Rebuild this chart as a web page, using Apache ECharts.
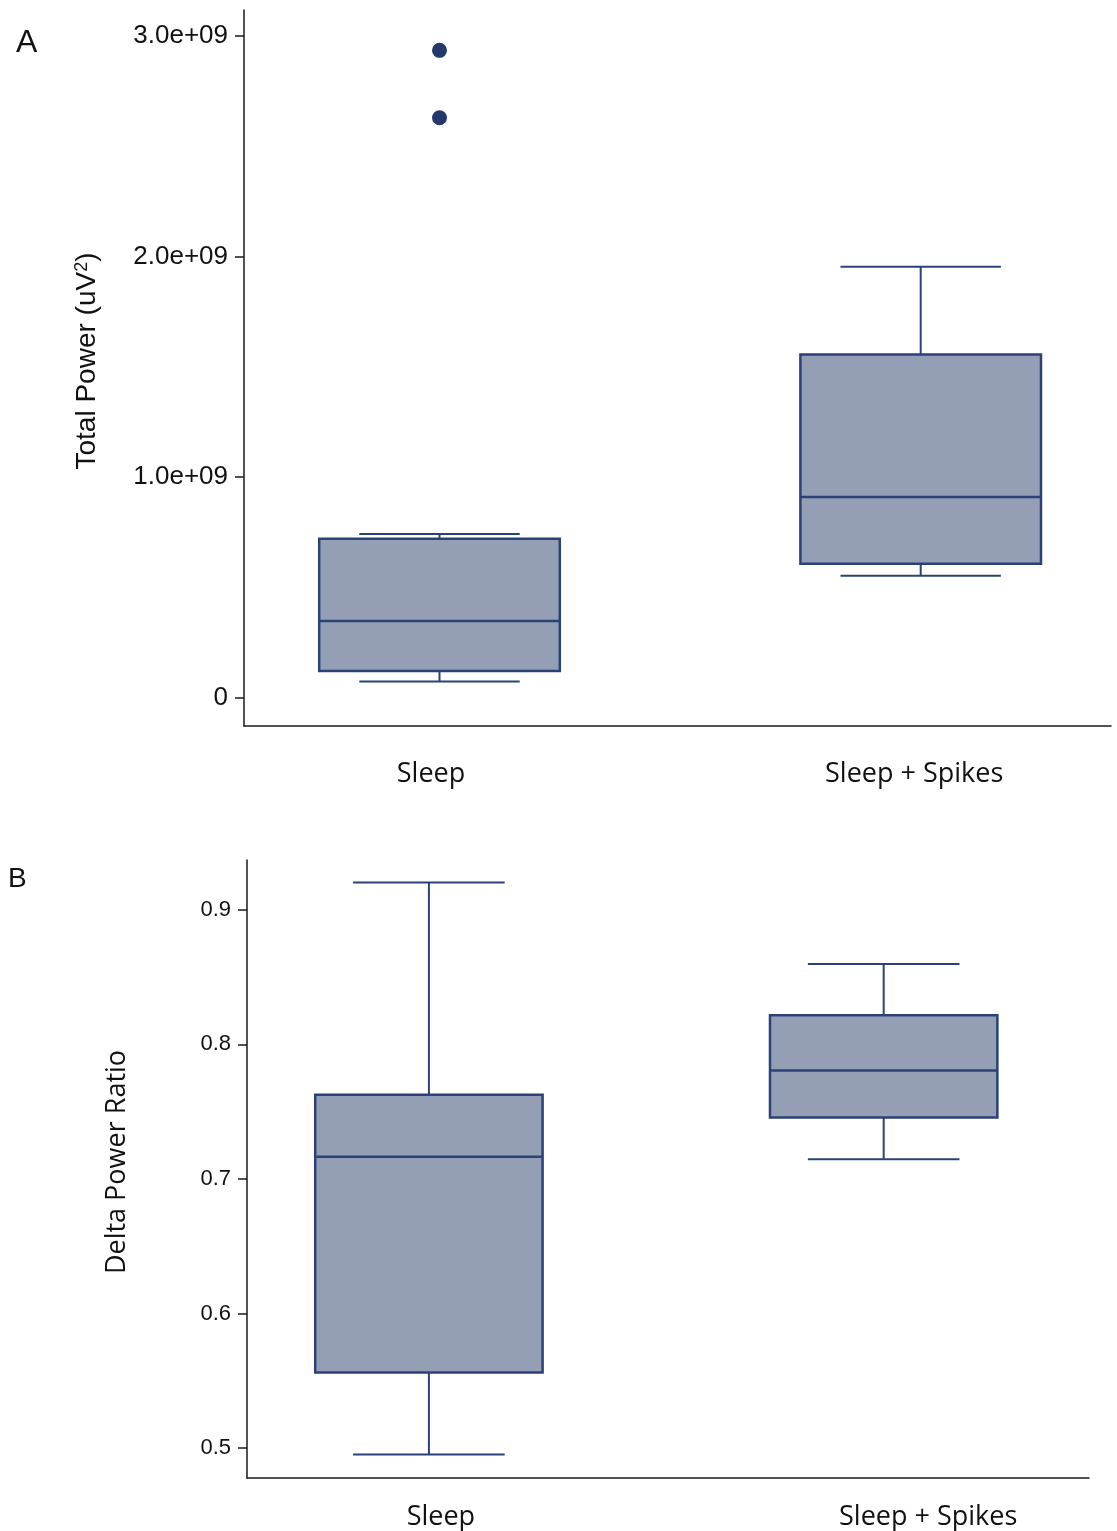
<!DOCTYPE html>
<html><head><meta charset="utf-8">
<script src="https://cdn.jsdelivr.net/npm/echarts@6/dist/echarts.min.js"></script>
<style>html,body{margin:0;padding:0;background:#fff}#c{width:1117px;height:1531px}</style>
</head><body><div id="c"></div>
<script>
// ---- data ----
const categories = ['Sleep', 'Sleep + Spikes'];
// box stats: [min, Q1, median, Q3, max]
const powerSleep = [0.072e9, 0.120e9, 0.347e9, 0.720e9, 0.741e9];
const powerSpikes = [0.552e9, 0.606e9, 0.909e9, 1.555e9, 1.954e9];
const powerOutliersSleep = [2.935e9, 2.629e9];
const powerTicks = [0, 1e9, 2e9, 3e9];
const powerTickLabels = ['0', '1.0e+09', '2.0e+09', '3.0e+09'];
const ratioSleep = [0.4951, 0.5561, 0.7165, 0.7626, 0.9204];
const ratioSpikes = [0.7146, 0.7457, 0.7806, 0.8216, 0.8597];
const ratioTicks = [0.5, 0.6, 0.7, 0.8, 0.9];
const ratioTickLabels = ['0.5', '0.6', '0.7', '0.8', '0.9'];

// ---- styles ----
const STROKE = '#2b4276';
const FILL = '#949fb6';
const AXIS = '#1a1a1a';
const HELV = 'Liberation Sans';
const CAL = 'Open Sans';

function renderBox(params, api) {
  const x = api.value(0);
  const lo = api.coord([x, api.value(1)]);
  const q1 = api.coord([x, api.value(2)]);
  const med = api.coord([x, api.value(3)]);
  const q3 = api.coord([x, api.value(4)]);
  const hi = api.coord([x, api.value(5)]);
  const bw = api.size([0.5, 0], [x, api.value(3)])[0];
  const cw = api.size([1 / 3, 0], [x, api.value(3)])[0];
  const cx = med[0];
  const ls = { stroke: STROKE, lineWidth: 2 };
  return {
    type: 'group',
    children: [
      { type: 'line', shape: { x1: cx, y1: hi[1], x2: cx, y2: q3[1] }, style: ls },
      { type: 'line', shape: { x1: cx, y1: q1[1], x2: cx, y2: lo[1] }, style: ls },
      { type: 'line', shape: { x1: cx - cw / 2, y1: hi[1], x2: cx + cw / 2, y2: hi[1] }, style: ls },
      { type: 'line', shape: { x1: cx - cw / 2, y1: lo[1], x2: cx + cw / 2, y2: lo[1] }, style: ls },
      { type: 'rect', shape: { x: cx - bw / 2, y: q3[1], width: bw, height: q1[1] - q3[1] },
        style: { fill: FILL, stroke: STROKE, lineWidth: 2.5 } },
      { type: 'line', shape: { x1: cx - bw / 2, y1: med[1], x2: cx + bw / 2, y2: med[1] },
        style: { stroke: STROKE, lineWidth: 2.5 } }
    ]
  };
}

function catFormatter(v) {
  const i = Math.round(v) - 1;
  return '{c' + i + '|' + categories[i] + '}';
}
function tickFmt(ticks, labels) {
  return function (v) {
    for (let i = 0; i < ticks.length; i++) if (Math.abs(ticks[i] - v) < 1e-9 * Math.max(1, Math.abs(v))) return labels[i];
    return '';
  };
}

const chart = echarts.init(document.getElementById('c'), null, { renderer: 'canvas' });
chart.setOption({
  animation: false,
  backgroundColor: '#ffffff',
  title: [
    { text: 'A', left: 16, top: 27, padding: 0,
      textStyle: { fontSize: 32, fontWeight: 'normal', fontFamily: HELV, color: '#111' } },
    { text: 'B', left: 8, top: 865, padding: 0,
      textStyle: { fontSize: 28, fontWeight: 'normal', fontFamily: HELV, color: '#111' } }
  ],
  grid: [
    { left: 244, right: 6, top: 10, height: 716 },
    { left: 247, right: 28, top: 860, height: 619.3 }
  ],
  xAxis: [
    { gridIndex: 0, type: 'value', min: 0.5937, max: 2.3955,
      axisLine: { show: true, onZero: false, lineStyle: { color: AXIS, width: 1.5 } },
      axisTick: { show: false }, splitLine: { show: false },
      axisLabel: { customValues: [1, 2], formatter: catFormatter, margin: 35,
        fontSize: 27, fontFamily: CAL, color: '#111',
        rich: { c0: { fontSize: 27, fontFamily: CAL, color: '#111', padding: [0, 17, 0, 0] },
                c1: { fontSize: 27, fontFamily: CAL, color: '#111', padding: [0, 13, 0, 0] } } } },
    { gridIndex: 1, type: 'value', min: 0.6, max: 2.4515,
      axisLine: { show: true, onZero: false, lineStyle: { color: AXIS, width: 1.5 } },
      axisTick: { show: false }, splitLine: { show: false },
      axisLabel: { customValues: [1, 2], formatter: catFormatter, margin: 26,
        fontSize: 27, fontFamily: CAL, color: '#111',
        rich: { c0: { fontSize: 27, fontFamily: CAL, color: '#111', padding: [0, 0, 0, 24] },
                c1: { fontSize: 27, fontFamily: CAL, color: '#111', padding: [0, 0, 0, 89] } } } }
  ],
  yAxis: [
    { gridIndex: 0, type: 'value', min: -0.1294e9, max: 3.118e9,
      axisLine: { show: true, onZero: false, lineStyle: { color: AXIS, width: 1.5 } },
      axisTick: { show: true, length: 9, customValues: powerTicks, lineStyle: { color: AXIS, width: 1.5 } },
      splitLine: { show: false },
      axisLabel: { customValues: powerTicks, formatter: tickFmt(powerTicks, powerTickLabels),
        margin: 16, fontSize: 26, fontFamily: HELV, color: '#111', padding: [4, 0, 0, 0] },
      name: 'Total Power (uV{sup|2})', nameLocation: 'middle', nameGap: 143,
      nameTextStyle: { fontSize: 28, fontFamily: HELV, color: '#111', padding: [0, 0, 0, 14],
        rich: { sup: { fontSize: 18, fontFamily: HELV, color: '#111', verticalAlign: 'top', lineHeight: 26 } } } },
    { gridIndex: 1, type: 'value', min: 0.4777, max: 0.9371,
      axisLine: { show: true, onZero: false, lineStyle: { color: AXIS, width: 1.5 } },
      axisTick: { show: true, length: 9, customValues: ratioTicks, lineStyle: { color: AXIS, width: 1.5 } },
      splitLine: { show: false },
      axisLabel: { customValues: ratioTicks, formatter: tickFmt(ratioTicks, ratioTickLabels),
        margin: 16, fontSize: 22, fontFamily: HELV, color: '#111', padding: [3, 0, 0, 0] },
      name: 'Delta Power Ratio', nameLocation: 'middle', nameGap: 116,
      nameTextStyle: { fontSize: 27, fontFamily: CAL, color: '#111', padding: [0, 0, 0, 14] } }
  ],
  series: [
    { type: 'custom', xAxisIndex: 0, yAxisIndex: 0, renderItem: renderBox,
      encode: { x: 0, y: [1, 2, 3, 4, 5] },
      data: [[1].concat(powerSleep), [2].concat(powerSpikes)] },
    { type: 'scatter', xAxisIndex: 0, yAxisIndex: 0, symbol: 'circle', symbolSize: 15,
      itemStyle: { color: '#23396b', opacity: 1 },
      data: powerOutliersSleep.map(v => [1, v]) },
    { type: 'custom', xAxisIndex: 1, yAxisIndex: 1, renderItem: renderBox,
      encode: { x: 0, y: [1, 2, 3, 4, 5] },
      data: [[1].concat(ratioSleep), [2].concat(ratioSpikes)] }
  ]
});
</script>
</body></html>
